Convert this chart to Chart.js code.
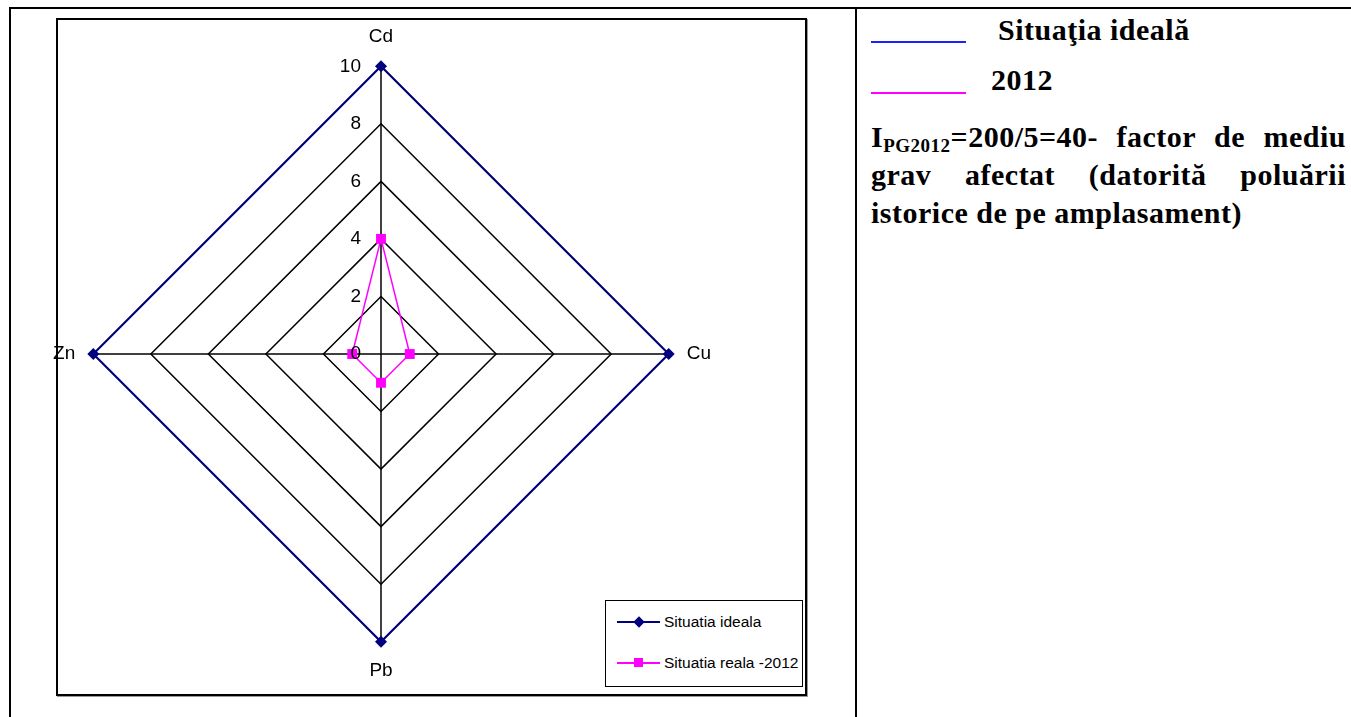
<!DOCTYPE html>
<html>
<head>
    <title>Radar - Situatia ideala / 2012</title>
    <script src="https://cdn.jsdelivr.net/npm/chart.js@4.4.0/dist/chart.umd.min.js"></script>
    <style>
        body {
            margin: 0;
            width: 1351px;
            height: 717px;
            position: relative;
            overflow: hidden;
            background: #fff;
            font-family: "Liberation Sans", Arial, sans-serif;
        }
        .rule { position: absolute; background: #000; }
        .chart-box {
            position: absolute;
            left: 56px; top: 18px;
            width: 747px; height: 674px;
            border: 2px solid #000;
            box-shadow: 1px 1px 0 #999;
        }
        .chart-container {
            position: absolute;
            left: 53px; top: 24px;
            width: 660px; height: 660px;
        }
        .legend {
            position: absolute;
            left: 605px; top: 600px;
            width: 196px; height: 85px;
            border: 1.5px solid #000;
            background: #fff;
            font-size: 15.5px;
        }
        .legend-item { position: absolute; left: 0; height: 22px; width: 196px; }
        .legend-line { position: absolute; left: 11px; top: 10px; width: 43px; height: 2px; }
        .legend-mark { position: absolute; }
        .legend-text { position: absolute; left: 58px; top: 0; line-height: 22px; white-space: nowrap; }
        .panel {
            position: absolute;
            font-family: "Liberation Serif", "Times New Roman", serif;
            font-weight: bold;
            font-size: 30px;
            letter-spacing: 0.5px;
            line-height: 38px;
            color: #000;
        }
        .swatch { position: absolute; left: 871px; width: 95px; height: 1.5px; }
        .para { left: 871px; top: 118px; width: 475px; text-align: justify; }
        .para sub { font-size: 19px; vertical-align: -5px; line-height: 0; }
    </style>
</head>
<body>
    <!-- table borders -->
    <div class="rule" style="left:9px; top:7px; width:1342px; height:2px;"></div>
    <div class="rule" style="left:9px; top:7px; width:2px; height:710px;"></div>
    <div class="rule" style="left:855px; top:7px; width:2px; height:710px;"></div>

    <div class="chart-box"></div>
    <div class="chart-container">
        <canvas id="radarChart"></canvas>
    </div>
    <div class="legend" id="legend"></div>

    <!-- right column -->
    <div class="swatch" style="top:41px; background:#1f1fff;"></div>
    <div class="panel" style="left:998px; top:11px;">Situaţia ideală</div>
    <div class="swatch" style="top:92px; background:#ff00ff;"></div>
    <div class="panel" style="left:991px; top:61px;">2012</div>
    <div class="panel para">I<sub>PG2012</sub>=200/5=40- factor de mediu grav afectat (datorită poluării istorice de pe amplasament)</div>

    <script>
    // axes of the diagram
    const elements = ['Cd', 'Cu', 'Pb', 'Zn'];
    const idealValues = [10, 10, 10, 10];
    const values2012 = [4, 1, 1, 1];
    const radialTicks = [0, 2, 4, 6, 8, 10];

    const seriesNames = ['Situatia ideala', 'Situatia reala -2012'];
    const navy = '#000080';
    const magenta = '#ff00ff';

    // tick numbers sit left of the vertical axis, like in Excel
    const tickLabels = {
        id: 'tickLabels',
        afterDatasetsDraw(chart) {
            const scale = chart.scales.r;
            const ctx = chart.ctx;
            ctx.save();
            ctx.font = '19px "Liberation Sans", Arial, sans-serif';
            ctx.fillStyle = '#000';
            ctx.textAlign = 'right';
            ctx.textBaseline = 'middle';
            radialTicks.forEach(v => {
                const d = scale.getDistanceFromCenterForValue(v);
                ctx.fillText(String(v), scale.xCenter - 20, scale.yCenter - d);
            });
            ctx.restore();
        }
    };

    const chart = new Chart(document.getElementById('radarChart'), {
        type: 'radar',
        data: {
            labels: elements,
            datasets: [
                {
                    label: seriesNames[0],
                    data: idealValues,
                    borderColor: navy,
                    backgroundColor: navy,
                    borderWidth: 2,
                    fill: false,
                    pointStyle: 'rectRot',
                    pointRadius: 6,
                    pointBorderWidth: 0
                },
                {
                    label: seriesNames[1],
                    data: values2012,
                    borderColor: magenta,
                    backgroundColor: magenta,
                    borderWidth: 1.5,
                    fill: false,
                    pointStyle: 'rect',
                    pointRadius: 7,
                    pointBorderWidth: 0
                }
            ]
        },
        options: {
            responsive: true,
            maintainAspectRatio: false,
            animation: false,
            layout: { padding: 0 },
            plugins: {
                legend: { display: false },
                tooltip: { enabled: false }
            },
            scales: {
                r: {
                    min: radialTicks[0],
                    max: radialTicks[radialTicks.length - 1],
                    ticks: { display: false, stepSize: 2 },
                    grid: { color: '#000', lineWidth: 1.5, circular: false },
                    angleLines: { color: '#000', lineWidth: 1.5 },
                    pointLabels: {
                        color: '#000',
                        padding: 18,
                        font: { size: 19, family: '"Liberation Sans", Arial, sans-serif' }
                    }
                }
            }
        },
        plugins: [tickLabels]
    });

    // legend box in the lower right of the chart frame
    function buildLegend(chart) {
        const box = document.getElementById('legend');
        chart.data.datasets.forEach((ds, i) => {
            const item = document.createElement('div');
            item.className = 'legend-item';
            item.style.top = (10 + i * 41) + 'px';

            const line = document.createElement('div');
            line.className = 'legend-line';
            line.style.background = ds.borderColor;
            item.appendChild(line);

            const mark = document.createElement('div');
            mark.className = 'legend-mark';
            mark.style.background = ds.borderColor;
            if (ds.pointStyle === 'rectRot') {
                mark.style.width = '8px'; mark.style.height = '8px';
                mark.style.left = '29px'; mark.style.top = '7px';
                mark.style.transform = 'rotate(45deg)';
            } else {
                mark.style.width = '9px'; mark.style.height = '9px';
                mark.style.left = '28px'; mark.style.top = '6px';
            }
            item.appendChild(mark);

            const text = document.createElement('div');
            text.className = 'legend-text';
            text.textContent = ds.label;
            item.appendChild(text);

            box.appendChild(item);
        });
    }
    buildLegend(chart);
    </script>
</body>
</html>
